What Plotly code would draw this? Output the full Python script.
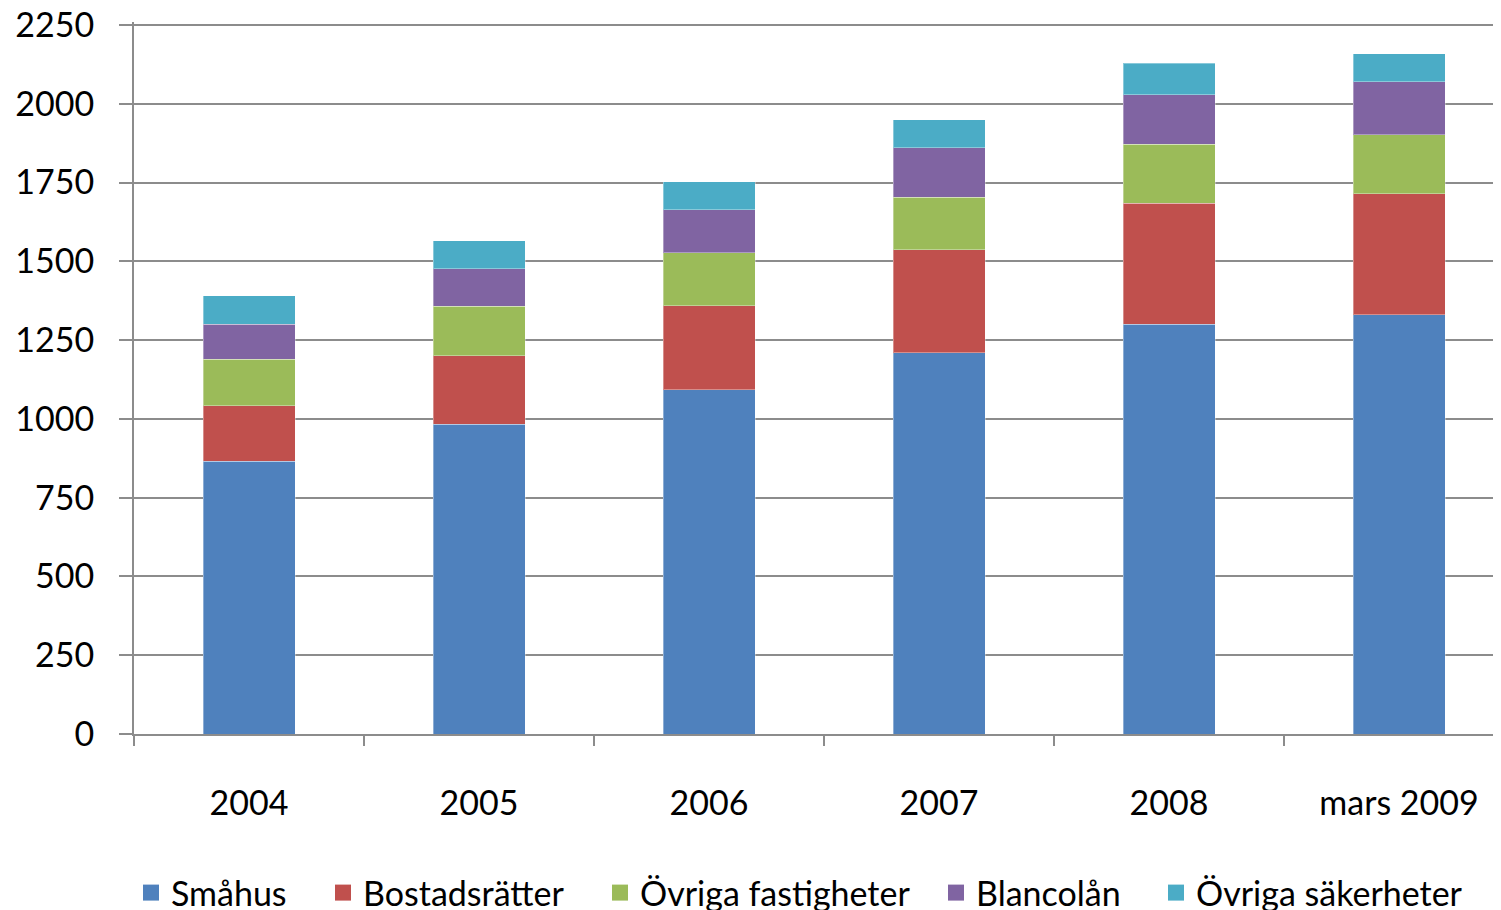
import plotly.graph_objects as go

categories = ["2004", "2005", "2006", "2007", "2008", "mars 2009"]
smahus = [865, 983, 1092, 1210, 1300, 1330]
bostadsratter = [177, 218, 267, 326, 384, 384]
ovriga_fastigheter = [148, 157, 168, 168, 187, 188]
blancolan = [110, 119, 137, 156, 157, 168]
ovriga_sakerheter = [90, 89, 89, 90, 101, 89]
y_ticks = [0, 250, 500, 750, 1000, 1250, 1500, 1750, 2000, 2250]

series = [
    ("Småhus", smahus, "#4F81BD"),
    ("Bostadsrätter", bostadsratter, "#C0504D"),
    ("Övriga fastigheter", ovriga_fastigheter, "#9BBB59"),
    ("Blancolån", blancolan, "#8064A2"),
    ("Övriga säkerheter", ovriga_sakerheter, "#4BACC6"),
]
# screen x of each legend entry symbol in the reference
legend_left_px = [143, 335, 612, 948, 1168]

FONT = "Lato, Open Sans, sans-serif"
W, H = 1501, 910
L, R, T, B = 126, 9, 14, 184
PW = W - L - R
PH = H - T - B

fig = go.Figure()
legend_layouts = {}
for i, (name, vals, col) in enumerate(series):
    lname = "legend" if i == 0 else f"legend{i+1}"
    fig.add_trace(go.Bar(
        x=categories, y=vals, name=name, showlegend=False,
        legendgroup=name,
        marker=dict(color=col, line=dict(color="rgba(255,255,255,0.35)", width=1)),
        width=0.4,
    ))
    fig.add_trace(go.Scatter(
        x=[None], y=[None], mode="markers", name=name, legendgroup=name,
        marker=dict(symbol="square", size=16, color=col),
        legend=lname, showlegend=True,
    ))
    xpos = (legend_left_px[i] - 20 - L) / PW
    legend_layouts[lname] = dict(
        orientation="h", x=xpos, xanchor="left",
        y=(H - 885 - B) / PH, yanchor="middle",
        font=dict(family=FONT, size=34, color="black"),
        bgcolor="rgba(0,0,0,0)", itemwidth=30,
    )

fig.update_layout(
    barmode="stack",
    width=W, height=H,
    margin=dict(l=L, r=R, t=T, b=B, autoexpand=False),
    paper_bgcolor="white", plot_bgcolor="white",
    font=dict(family=FONT, size=34, color="black"),
    showlegend=True,
    xaxis=dict(
        type="category",
        range=[-0.5, 5.439],
        showline=True, linecolor="#8c8c8c", linewidth=2,
        ticks="outside", tickson="boundaries", ticklen=10, tickwidth=2, tickcolor="#8c8c8c",
        showgrid=False, automargin=False,
        tickfont=dict(family=FONT, size=34, color="black"),
        ticklabelstandoff=38, ticklabeloverflow="allow",
    ),
    yaxis=dict(
        range=[0, 2259.5], tickvals=y_ticks,
        showline=True, linecolor="#8c8c8c", linewidth=2,
        ticks="outside", ticklen=13, tickwidth=2, tickcolor="#8c8c8c",
        showgrid=True, gridcolor="#8c8c8c", gridwidth=2,
        zeroline=False, automargin=False,
        tickfont=dict(family=FONT, size=34, color="black"),
        ticklabelstandoff=18, ticklabeloverflow="allow",
    ),
    **legend_layouts,
)

fig.write_html("out.html")
